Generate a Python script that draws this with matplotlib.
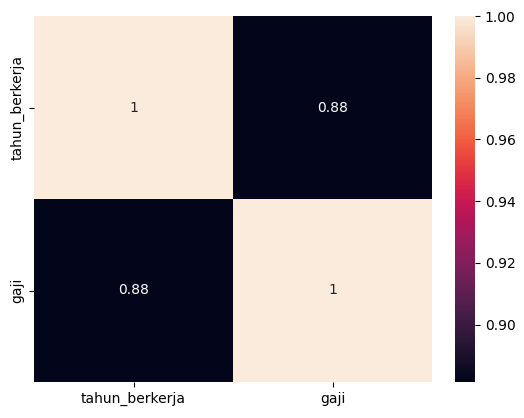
import matplotlib
matplotlib.use("Agg")
import matplotlib.pyplot as plt
import numpy as np
import pandas as pd
import seaborn as sns

labels = ["tahun_berkerja", "gaji"]
corr_values = [[1.0, 0.8814], [0.8814, 1.0]]

corr = pd.DataFrame(np.array(corr_values), index=labels, columns=labels)

fig = plt.figure(figsize=(5.24, 4.18), dpi=100)
ax = fig.add_axes([34 / 524, 36 / 418, 398 / 524, 366 / 418])
cax = fig.add_axes([455 / 524, 36 / 418, 20 / 524, 366 / 418])
sns.heatmap(corr, annot=True, ax=ax, cbar_ax=cax)
fig.savefig("out.png", dpi=100)
